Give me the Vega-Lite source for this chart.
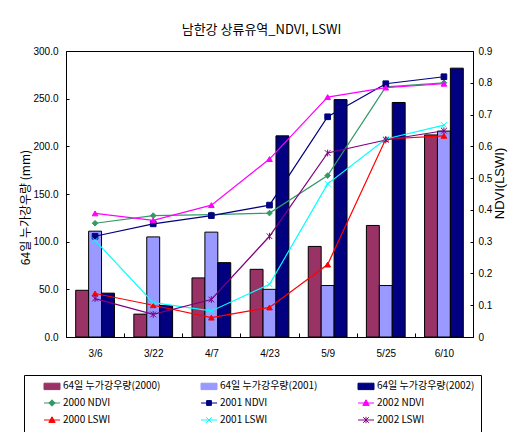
{
  "$schema": "https://vega.github.io/schema/vega-lite/v6.json",
  "width": 407,
  "height": 286,
  "autosize": "none",
  "padding": {"left": 66, "top": 51, "right": 38, "bottom": 95},
  "background": "white",
  "title": {
    "text": "남한강 상류유역_NDVI, LSWI",
    "font": "Noto Sans CJK KR",
    "fontSize": 13,
    "fontWeight": "normal",
    "color": "black",
    "anchor": "middle",
    "dx": -8,
    "offset": 9
  },
  "config": {
    "view": {"stroke": "black", "strokeWidth": 1},
    "axis": {
      "labelFont": "Liberation Sans",
      "labelFontSize": 10,
      "labelColor": "black",
      "domainColor": "black",
      "tickColor": "black",
      "grid": false
    }
  },
  "data": {
    "values": [
      {"date": "3/6", "series": "64일 누가강우량(2000)", "value": 49},
      {"date": "3/22", "series": "64일 누가강우량(2000)", "value": 24},
      {"date": "4/7", "series": "64일 누가강우량(2000)", "value": 62},
      {"date": "4/23", "series": "64일 누가강우량(2000)", "value": 71},
      {"date": "5/9", "series": "64일 누가강우량(2000)", "value": 95},
      {"date": "5/25", "series": "64일 누가강우량(2000)", "value": 117},
      {"date": "6/10", "series": "64일 누가강우량(2000)", "value": 212},
      {"date": "3/6", "series": "64일 누가강우량(2001)", "value": 111},
      {"date": "3/22", "series": "64일 누가강우량(2001)", "value": 105},
      {"date": "4/7", "series": "64일 누가강우량(2001)", "value": 110},
      {"date": "4/23", "series": "64일 누가강우량(2001)", "value": 50},
      {"date": "5/9", "series": "64일 누가강우량(2001)", "value": 54},
      {"date": "5/25", "series": "64일 누가강우량(2001)", "value": 54},
      {"date": "6/10", "series": "64일 누가강우량(2001)", "value": 216},
      {"date": "3/6", "series": "64일 누가강우량(2002)", "value": 46},
      {"date": "3/22", "series": "64일 누가강우량(2002)", "value": 33},
      {"date": "4/7", "series": "64일 누가강우량(2002)", "value": 78},
      {"date": "4/23", "series": "64일 누가강우량(2002)", "value": 211},
      {"date": "5/9", "series": "64일 누가강우량(2002)", "value": 249},
      {"date": "5/25", "series": "64일 누가강우량(2002)", "value": 246},
      {"date": "6/10", "series": "64일 누가강우량(2002)", "value": 282},
      {"date": "3/6", "series": "2000 NDVI", "value": 0.358},
      {"date": "3/22", "series": "2000 NDVI", "value": 0.382},
      {"date": "4/7", "series": "2000 NDVI", "value": 0.385},
      {"date": "4/23", "series": "2000 NDVI", "value": 0.39},
      {"date": "5/9", "series": "2000 NDVI", "value": 0.508},
      {"date": "5/25", "series": "2000 NDVI", "value": 0.787},
      {"date": "6/10", "series": "2000 NDVI", "value": 0.8},
      {"date": "3/6", "series": "2001 NDVI", "value": 0.317},
      {"date": "3/22", "series": "2001 NDVI", "value": 0.356},
      {"date": "4/7", "series": "2001 NDVI", "value": 0.382},
      {"date": "4/23", "series": "2001 NDVI", "value": 0.415},
      {"date": "5/9", "series": "2001 NDVI", "value": 0.693},
      {"date": "5/25", "series": "2001 NDVI", "value": 0.797},
      {"date": "6/10", "series": "2001 NDVI", "value": 0.819},
      {"date": "3/6", "series": "2002 NDVI", "value": 0.389},
      {"date": "3/22", "series": "2002 NDVI", "value": 0.367},
      {"date": "4/7", "series": "2002 NDVI", "value": 0.415},
      {"date": "4/23", "series": "2002 NDVI", "value": 0.56},
      {"date": "5/9", "series": "2002 NDVI", "value": 0.755},
      {"date": "5/25", "series": "2002 NDVI", "value": 0.785},
      {"date": "6/10", "series": "2002 NDVI", "value": 0.797},
      {"date": "3/6", "series": "2000 LSWI", "value": 0.137},
      {"date": "3/22", "series": "2000 LSWI", "value": 0.1},
      {"date": "4/7", "series": "2000 LSWI", "value": 0.061},
      {"date": "4/23", "series": "2000 LSWI", "value": 0.093},
      {"date": "5/9", "series": "2000 LSWI", "value": 0.228},
      {"date": "5/25", "series": "2000 LSWI", "value": 0.623},
      {"date": "6/10", "series": "2000 LSWI", "value": 0.633},
      {"date": "3/6", "series": "2001 LSWI", "value": 0.304},
      {"date": "3/22", "series": "2001 LSWI", "value": 0.108},
      {"date": "4/7", "series": "2001 LSWI", "value": 0.082},
      {"date": "4/23", "series": "2001 LSWI", "value": 0.166},
      {"date": "5/9", "series": "2001 LSWI", "value": 0.482},
      {"date": "5/25", "series": "2001 LSWI", "value": 0.623},
      {"date": "6/10", "series": "2001 LSWI", "value": 0.667},
      {"date": "3/6", "series": "2002 LSWI", "value": 0.121},
      {"date": "3/22", "series": "2002 LSWI", "value": 0.071},
      {"date": "4/7", "series": "2002 LSWI", "value": 0.118},
      {"date": "4/23", "series": "2002 LSWI", "value": 0.317},
      {"date": "5/9", "series": "2002 LSWI", "value": 0.579},
      {"date": "5/25", "series": "2002 LSWI", "value": 0.62},
      {"date": "6/10", "series": "2002 LSWI", "value": 0.649}
    ]
  },
  "encoding": {
    "x": {
      "field": "date",
      "type": "nominal",
      "sort": ["3/6", "3/22", "4/7", "4/23", "5/9", "5/25", "6/10"],
      "scale": {"paddingInner": 0, "paddingOuter": 0},
      "axis": {
        "title": null,
        "labelAngle": 0,
        "tickBand": "extent",
        "tickSize": -4,
        "labelPadding": 15
      }
    },
    "color": {
      "field": "series",
      "type": "nominal",
      "scale": {
        "domain": ["64일 누가강우량(2000)", "64일 누가강우량(2001)", "64일 누가강우량(2002)", "2000 NDVI", "2001 NDVI", "2002 NDVI", "2000 LSWI", "2001 LSWI", "2002 LSWI"],
        "range": ["#993366", "#9999ff", "#000080", "#339966", "#000080", "#ff00ff", "#ff0000", "#00ffff", "#800080"]
      },
      "legend": {
        "title": null,
        "orient": "none",
        "legendX": -42,
        "legendY": 324,
        "direction": "horizontal",
        "columns": 3,
        "strokeColor": "black",
        "fillColor": "white",
        "padding": 6,
        "symbolSize": 64,
        "symbolOffset": 17,
        "rowPadding": 5,
        "columnPadding": 26,
        "labelFont": "Noto Sans CJK KR",
        "labelFontSize": 10,
        "labelColor": "black",
        "labelOffset": 6,
        "labelLimit": 200,
        "symbolStrokeWidth": 1,
        "symbolOpacity": 1,
        "encode": {
          "symbols": {
            "update": {
              "shape": {"signal": "['M-2,-0.8H2V0.8H-2Z','M-2,-0.8H2V0.8H-2Z','M-2,-0.8H2V0.8H-2Z','M-2,0H2M-0.8,0L0,-0.8L0.8,0L0,0.8Z','M-2,0H2M-0.6,-0.6H0.6V0.6H-0.6Z','M-2,0H2M0,-0.8L0.8,0.6L-0.8,0.6Z','M-2,0H2M0,-0.8L0.8,0.6L-0.8,0.6Z','M-2,0H2M-0.7,-0.7L0.7,0.7M-0.7,0.7L0.7,-0.7','M-2,0H2M-0.7,-0.7L0.7,0.7M-0.7,0.7L0.7,-0.7M0,-0.8V0.8'][indexof(['64일 누가강우량(2000)','64일 누가강우량(2001)','64일 누가강우량(2002)','2000 NDVI','2001 NDVI','2002 NDVI','2000 LSWI','2001 LSWI','2002 LSWI'], datum.value)]"},
              "fill": {"scale": "color", "field": "value"},
              "stroke": {"signal": "indexof(['64일 누가강우량(2000)','64일 누가강우량(2001)','64일 누가강우량(2002)'], datum.value) >= 0 ? 'black' : scale('color', datum.value)"},
              "strokeWidth": {"value": 1},
              "opacity": {"value": 1}
            }
          }
        }
      }
    }
  },
  "layer": [
    {
      "transform": [
        {"filter": {"field": "series", "oneOf": ["64일 누가강우량(2000)", "64일 누가강우량(2001)", "64일 누가강우량(2002)"]}}
      ],
      "mark": {"type": "bar", "stroke": "black", "strokeWidth": 1},
      "encoding": {
        "xOffset": {
          "field": "series",
          "type": "nominal",
          "sort": ["64일 누가강우량(2000)", "64일 누가강우량(2001)", "64일 누가강우량(2002)"],
          "scale": {"paddingInner": 0, "paddingOuter": 0.75}
        },
        "y": {
          "field": "value",
          "type": "quantitative",
          "scale": {"domain": [0, 300], "nice": false},
          "axis": {
            "orient": "left",
            "values": [0, 50, 100, 150, 200, 250, 300],
            "format": ".1f",
            "tickSize": -3,
            "labelPadding": 11,
            "title": "64일 누가강우량 (mm)",
            "titleFont": "Noto Sans CJK KR",
            "titleFontSize": 12,
            "titleFontWeight": "normal",
            "titleColor": "black",
            "titlePadding": 0,
            "titleY": 156
          }
        }
      }
    },
    {
      "transform": [
        {"filter": {"field": "series", "oneOf": ["2000 NDVI", "2001 NDVI", "2002 NDVI", "2000 LSWI", "2001 LSWI", "2002 LSWI"]}}
      ],
      "encoding": {
        "y": {
          "field": "value",
          "type": "quantitative",
          "scale": {"domain": [0, 0.9], "nice": false},
          "axis": {
            "orient": "right",
            "values": [0, 0.1, 0.2, 0.3, 0.4, 0.5, 0.6, 0.7, 0.8, 0.9],
            "format": ".1~f",
            "tickSize": -3,
            "labelPadding": 8,
            "title": "NDVI(LSWI)",
            "titleFont": "Liberation Sans",
            "titleFontSize": 13,
            "titleFontWeight": "normal",
            "titleColor": "black",
            "titleAngle": 270,
            "titleBaseline": "top",
            "titlePadding": 2,
            "titleY": 132
          }
        }
      },
      "layer": [
        {
          "mark": {"type": "line", "strokeWidth": 1.2}
        },
        {
          "mark": {"type": "point", "filled": true, "size": 32, "strokeWidth": 1, "opacity": 1},
          "encoding": {
            "shape": {
              "field": "series",
              "type": "nominal",
              "scale": {
                "domain": ["2000 NDVI", "2001 NDVI", "2002 NDVI", "2000 LSWI", "2001 LSWI", "2002 LSWI"],
                "range": ["diamond", "square", "triangle-up", "triangle-up", "M-1,-1L1,1M-1,1L1,-1", "M-1,-1L1,1M-1,1L1,-1M0,-1.2V1.2"]
              },
              "legend": null
            },
            "stroke": {
              "field": "series",
              "type": "nominal",
              "scale": {
                "domain": ["2000 NDVI", "2001 NDVI", "2002 NDVI", "2000 LSWI", "2001 LSWI", "2002 LSWI"],
                "range": ["#339966", "#000080", "#ff00ff", "#ff0000", "#00ffff", "#800080"]
              },
              "legend": null
            }
          }
        }
      ]
    }
  ],
  "resolve": {"scale": {"y": "independent"}}
}
